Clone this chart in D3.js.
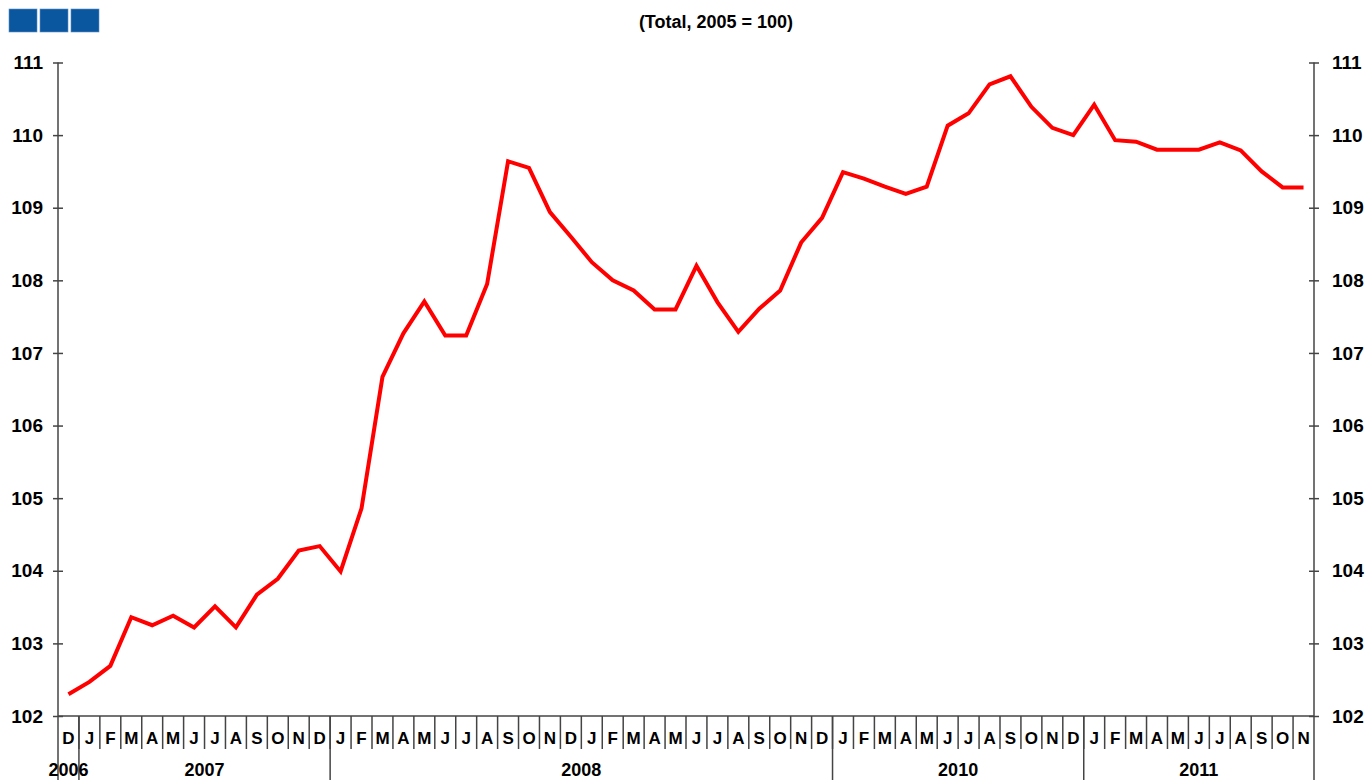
<!DOCTYPE html>
<html>
<head>
<meta charset="utf-8">
<script src="https://cdn.jsdelivr.net/npm/d3@7"></script>
<style>
  body { margin: 0; background: #fff; }
  svg { display: block; font-family: "Liberation Sans", Arial, sans-serif; font-weight: bold; }
  .axis path, .axis line { stroke: #444; stroke-width: 1.5; }
</style>
</head>
<body>
<svg id="chart" width="1365" height="780"></svg>
<script>
// Month initials, Dec 2006 .. Nov 2011
const months = ['D',
  'J','F','M','A','M','J','J','A','S','O','N','D',
  'J','F','M','A','M','J','J','A','S','O','N','D',
  'J','F','M','A','M','J','J','A','S','O','N','D',
  'J','F','M','A','M','J','J','A','S','O','N','D',
  'J','F','M','A','M','J','J','A','S','O','N'];

// Year labels as printed and how many months each one spans
const years = ['2006', '2007', '2008', '2010', '2011'];
const yearSpans = [1, 12, 24, 12, 11];

// Index values (2005 = 100)
const values = [102.30,
  102.47, 102.69, 103.36, 103.25, 103.38, 103.22, 103.51, 103.22, 103.67, 103.89, 104.28, 104.34,
  103.99, 104.86, 106.67, 107.27, 107.71, 107.24, 107.24, 107.95, 109.64, 109.55, 108.94, 108.60,
  108.25, 108.00, 107.86, 107.60, 107.60, 108.20, 107.70, 107.29, 107.61, 107.86, 108.52, 108.86,
  109.49, 109.40, 109.29, 109.19, 109.29, 110.13, 110.30, 110.70, 110.81, 110.39, 110.10, 110.00,
  110.42, 109.93, 109.91, 109.80, 109.80, 109.80, 109.90, 109.79, 109.50, 109.28, 109.28];

const yTicks = [102, 103, 104, 105, 106, 107, 108, 109, 110, 111];

const svg = d3.select('#chart');
const margin = { left: 58, right: 1314, top: 62.5, bottom: 716 };

// Header squares
svg.append('g')
  .selectAll('rect')
  .data([0, 1, 2])
  .enter()
    .append('rect')
      .attr('x', d => 9 + d * 31)
      .attr('y', 9)
      .attr('width', 28)
      .attr('height', 23)
      .attr('fill', '#0a57a0')
      .attr('stroke', '#5b8fc4')
      .attr('stroke-width', 0.6);

// Title
svg.append('text')
  .attr('x', 716)
  .attr('y', 28)
  .attr('text-anchor', 'middle')
  .attr('font-size', 18)
  .text('(Total, 2005 = 100)');

// Scales
const x = d3.scaleBand().domain(d3.range(months.length)).range([margin.left, margin.right]).padding(0);
const y = d3.scaleLinear().domain([102, 111]).range([margin.bottom, margin.top]);

// Y axes with ticks crossing the axis line
function yAxis(axisFn, xPos, pad, anchor) {
  const g = svg.append('g')
    .attr('class', 'axis')
    .attr('transform', `translate(${xPos},0)`)
    .call(axisFn(y).tickValues(yTicks).tickSize(5).tickPadding(pad).tickSizeOuter(0));
  g.select('.domain').remove();
  g.selectAll('.tick line').attr('x1', -5).attr('x2', 5);
  g.selectAll('.tick text')
    .attr('font-size', 19)
    .attr('font-family', '"Liberation Sans", Arial, sans-serif')
    .attr('font-weight', 'bold')
    .attr('fill', '#000')
    .attr('text-anchor', anchor);
  g.append('line')
    .attr('y1', margin.top).attr('y2', 780);
}
yAxis(d3.axisLeft, margin.left, 10, 'end');
yAxis(d3.axisRight, margin.right, 13, 'start');

// X axis: month labels
const xAxis = svg.append('g')
  .attr('class', 'axis')
  .attr('transform', `translate(0,${margin.bottom})`)
  .call(d3.axisBottom(x).tickSize(0).tickPadding(0).tickFormat(i => months[i]));
xAxis.select('.domain').remove();
xAxis.selectAll('.tick text')
  .attr('y', 28)
  .attr('dy', 0)
  .attr('font-size', 17)
  .attr('font-family', '"Liberation Sans", Arial, sans-serif')
  .attr('font-weight', 'bold')
  .attr('fill', '#000');

xAxis.append('line')
  .attr('x1', margin.left).attr('x2', margin.right);

// Month separators
xAxis.selectAll('.sep')
  .data(d3.range(1, months.length))
  .enter()
    .append('line')
      .attr('class', 'sep')
      .attr('x1', i => x(i)).attr('x2', i => x(i))
      .attr('y1', 0).attr('y2', 33);

// Year separators and labels
const starts = Array.from(d3.cumsum([0].concat(yearSpans))).slice(0, years.length);
xAxis.selectAll('.ysep')
  .data(starts.slice(1))
  .enter()
    .append('line')
      .attr('class', 'ysep')
      .attr('x1', i => x(i)).attr('x2', i => x(i))
      .attr('y1', 0).attr('y2', 64);

xAxis.selectAll('.year')
  .data(years)
  .enter()
    .append('text')
      .attr('class', 'year')
      .attr('x', (d, k) => x(starts[k]) + yearSpans[k] * x.bandwidth() / 2)
      .attr('y', 60)
      .attr('text-anchor', 'middle')
      .attr('font-size', 18)
      .attr('fill', '#000')
      .text(d => d);

// The line
const line = d3.line()
  .x((d, i) => x(i) + x.bandwidth() / 2)
  .y(d => y(d));

svg.append('path')
  .attr('d', line(values))
  .attr('fill', 'none')
  .attr('stroke', '#ff0000')
  .attr('stroke-width', 4)
  .attr('stroke-linejoin', 'miter');
</script>
</body>
</html>
